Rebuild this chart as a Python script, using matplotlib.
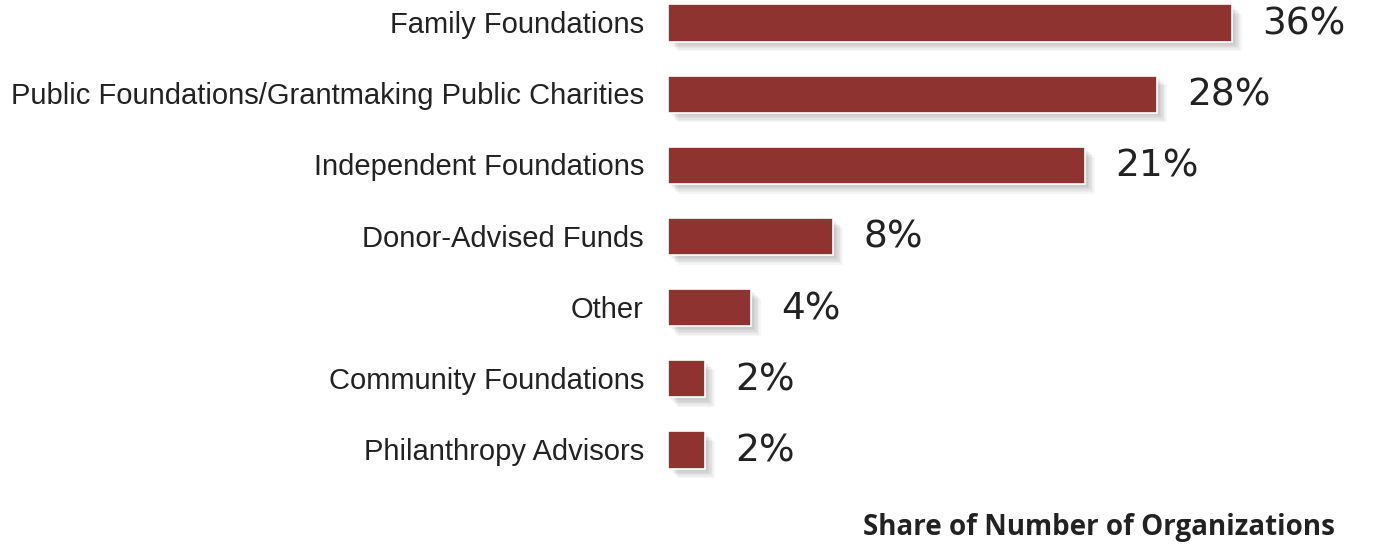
import matplotlib
matplotlib.use("Agg")
import matplotlib.pyplot as plt
import matplotlib.patheffects as pe

categories = ["Family Foundations",
              "Public Foundations/Grantmaking Public Charities",
              "Independent Foundations",
              "Donor-Advised Funds",
              "Other",
              "Community Foundations",
              "Philanthropy Advisors"]
pct_labels = ["36%", "28%", "21%", "8%", "4%", "2%", "2%"]
# bar lengths as drawn in the reference (relative units)
bar_lengths = [28.2, 24.45, 20.85, 8.25, 4.15, 1.85, 1.85]
axis_title = "Share of Number of Organizations"

W, H = 1375, 548
fig = plt.figure(figsize=(W / 100, H / 100), dpi=100)
ax = fig.add_axes([668 / W, 48 / H, (W - 668) / W, 500 / H])
ax.set_xlim(0, 707 / 20)
ax.set_ylim(6 + 50 / 71.17, -23 / 71.17)
ax.axis("off")

bar_color = "#8E3330"
ypos = list(range(len(categories)))

shadow = [pe.SimplePatchShadow(offset=(o, -o), shadow_rgbFace="black", alpha=0.035)
          for o in (2, 3, 4, 5, 6, 7)]
bars = ax.barh(ypos, bar_lengths, height=0.52, color=bar_color,
               edgecolor="white", linewidth=1.2, zorder=3)
for b in bars:
    b.set_path_effects(shadow + [pe.Normal()])

for y, L, lab, cat in zip(ypos, bar_lengths, pct_labels, categories):
    ax.text(L + 1.5, y + 0.02, lab, ha="left", va="center", fontsize=27,
            family="DejaVu Sans", color="#222222")
    ax.text(-1.2, y + 0.03, cat, ha="right", va="center", fontsize=21,
            family="Liberation Sans", color="#222222", clip_on=False)

fig.text(1335 / W, 1 - 528 / H, axis_title, ha="right", va="center",
         fontsize=20, fontweight="bold", family="Open Sans", color="#222222")

fig.savefig("out.png", dpi=100, facecolor="white")
